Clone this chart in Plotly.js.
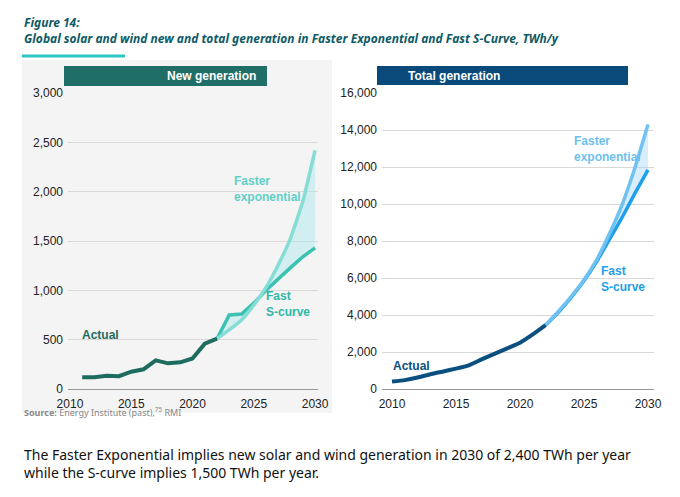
<!DOCTYPE html>
<html>
<head>
<script src="https://cdn.plot.ly/plotly-3.0.1.min.js"></script>
<style>body{margin:0;background:#fff}#chart{width:680px;height:497px}</style>
</head>
<body>
<div id="chart"></div>
<script>
// New generation, TWh/y
var newActualYears = [2011,2012,2013,2014,2015,2016,2017,2018,2019,2020,2021,2022];
var newActual = [120,120,135,130,175,200,290,260,270,310,460,510];
var projYears = [2022,2023,2024,2025,2026,2027,2028,2029,2030];
var newSCurve = [510,750,760,870,1000,1120,1230,1340,1430];
var newFastExp = [510,600,700,850,1030,1260,1530,1900,2420];

// Total generation, TWh/y
var totActualYears = [2010,2011,2012,2013,2014,2015,2016,2017,2018,2019,2020,2021,2022];
var totActual = [400,480,620,800,950,1100,1280,1600,1900,2200,2500,2950,3450];
var totSCurve = [3450,4150,4950,5850,6900,8100,9300,10600,11850];
var totFastExp = [3450,4200,5000,5900,7000,8400,10000,12000,14300];

var F = 'Liberation Sans, Arial, sans-serif';

function ln(x, y, color, w, xa, ya, fill, fc) {
  var t = {x: x, y: y, type: 'scatter', mode: 'lines', line: {color: color, width: w, shape: 'spline', smoothing: 0.4},
    xaxis: xa, yaxis: ya, hoverinfo: 'skip', showlegend: false};
  if (fill) { t.fill = 'tonexty'; t.fillcolor = fc; }
  return t;
}

var data = [
  ln(projYears, newSCurve, '#3cc2b2', 3.5, 'x', 'y'),
  ln(projYears, newFastExp, '#86ddd6', 3.5, 'x', 'y', true, 'rgba(170,230,235,0.45)'),
  ln(newActualYears, newActual, '#1e6b60', 4, 'x', 'y'),
  ln(projYears, totSCurve, '#1ea0ea', 3.5, 'x2', 'y2'),
  ln(projYears, totFastExp, '#70c2f2', 3.5, 'x2', 'y2', true, 'rgba(170,215,245,0.45)'),
  ln(totActualYears, totActual, '#0b4f80', 4, 'x2', 'y2')
];
data[0].line.shape = 'linear';
data[2].line.shape = 'linear';

var axX = {tickvals: [2010,2015,2020,2025,2030], showgrid: false, zeroline: false,
  showline: true, linecolor: '#999', ticks: '', ticklabelstandoff: 4,
  tickfont: {family: F, size: 12, color: '#222'}};
var axY = {showgrid: true, gridcolor: '#d9d9d9', zeroline: false, ticks: '', ticklabelstandoff: 4,
  tickformat: ',d', tickfont: {family: F, size: 12, color: '#222'}};

var layout = {
  width: 680, height: 497, margin: {l: 0, r: 0, t: 0, b: 0},
  paper_bgcolor: '#fff', plot_bgcolor: 'rgba(0,0,0,0)',
  xaxis: Object.assign({}, axX, {domain: [68/680, 318/680], range: [2009.84, 2030.24], anchor: 'y'}),
  yaxis: Object.assign({}, axY, {domain: [1-389/497, 1-93/497], range: [0, 3000], dtick: 500, anchor: 'x'}),
  xaxis2: Object.assign({}, axX, {domain: [382/680, 654/680], range: [2009.22, 2030.47], anchor: 'y2'}),
  yaxis2: Object.assign({}, axY, {domain: [1-389/497, 1-93/497], range: [0, 16000], dtick: 2000, anchor: 'x2'}),
  shapes: [
    {type: 'rect', xref: 'paper', yref: 'paper', x0: 22/680, x1: 332/680, y0: 1-413/497, y1: 1-60/497,
      fillcolor: '#f4f4f4', line: {width: 0}, layer: 'below'},
    {type: 'rect', xref: 'paper', yref: 'paper', x0: 64/680, x1: 267/680, y0: 1-86/497, y1: 1-66/497,
      fillcolor: '#1f6f68', line: {width: 0}, layer: 'below'},
    {type: 'rect', xref: 'paper', yref: 'paper', x0: 377/680, x1: 628/680, y0: 1-85/497, y1: 1-66/497,
      fillcolor: '#0a4a7a', line: {width: 0}, layer: 'below'},
    {type: 'line', xref: 'paper', yref: 'paper', x0: 22/680, x1: 125/680, y0: 1-56/497, y1: 1-56/497,
      line: {color: '#2cc7c0', width: 3}}
  ],
  annotations: [
    {xref: 'paper', yref: 'paper', x: 22/680, y: 1-12/497, xanchor: 'left', yanchor: 'top', showarrow: false,
      align: 'left', text: '<b><i>Figure 14:<br>Global solar and wind new and total generation in Faster Exponential and Fast S-Curve, TWh/y</i></b>',
      font: {family: 'Noto Sans, sans-serif', size: 12, color: '#0e5a66'}},
    {xref: 'paper', yref: 'paper', x: 165/680, y: 1-76/497, yanchor: 'middle', showarrow: false, text: '<b>New generation</b>',
      font: {family: F, size: 12, color: '#fff'}},
    {xref: 'paper', yref: 'paper', x: 502/680, y: 1-75.5/497, yanchor: 'middle', showarrow: false, text: '<b>Total generation</b>',
      font: {family: F, size: 12, color: '#fff'}},
    {xref: 'x', yref: 'y', x: 2010.8, y: 550, xanchor: 'left', showarrow: false, text: '<b>Actual</b>',
      font: {family: F, size: 12, color: '#1e6b60'}},
    {xref: 'x', yref: 'y', x: 2023.2, y: 2030, xanchor: 'left', align: 'left', showarrow: false,
      text: '<b>Faster<br>exponential</b>', font: {family: F, size: 12, color: '#5fd0c6'}},
    {xref: 'x', yref: 'y', x: 2025.8, y: 860, xanchor: 'left', align: 'left', showarrow: false,
      text: '<b>Fast<br>S-curve</b>', font: {family: F, size: 12, color: '#2fb8a8'}},
    {xref: 'x2', yref: 'y2', x: 2009.9, y: 1250, xanchor: 'left', showarrow: false, text: '<b>Actual</b>',
      font: {family: F, size: 12, color: '#0b4f80'}},
    {xref: 'x2', yref: 'y2', x: 2024.1, y: 12950, xanchor: 'left', align: 'left', showarrow: false,
      text: '<b>Faster<br>exponential</b>', font: {family: F, size: 12, color: '#6cc0f0'}},
    {xref: 'x2', yref: 'y2', x: 2026.2, y: 5950, xanchor: 'left', align: 'left', showarrow: false,
      text: '<b>Fast<br>S-curve</b>', font: {family: F, size: 12, color: '#1e9ee8'}},
    {xref: 'paper', yref: 'paper', x: 22/680, y: 1-421/497, xanchor: 'left', showarrow: false,
      text: '<b>Source:</b> Energy Institute (past),<sup>75</sup> RMI', font: {family: 'Noto Sans, sans-serif', size: 9, color: '#888'}},
    {xref: 'paper', yref: 'paper', x: 22/680, y: 1-443/497, xanchor: 'left', yanchor: 'top', align: 'left', showarrow: false,
      text: 'The Faster Exponential implies new solar and wind generation in 2030 of 2,400 TWh per year<br>while the S-curve implies 1,500 TWh per year.',
      font: {family: 'Noto Sans, sans-serif', size: 14, color: '#111'}}
  ]
};

Plotly.newPlot('chart', data, layout, {staticPlot: true});
</script>
</body>
</html>
